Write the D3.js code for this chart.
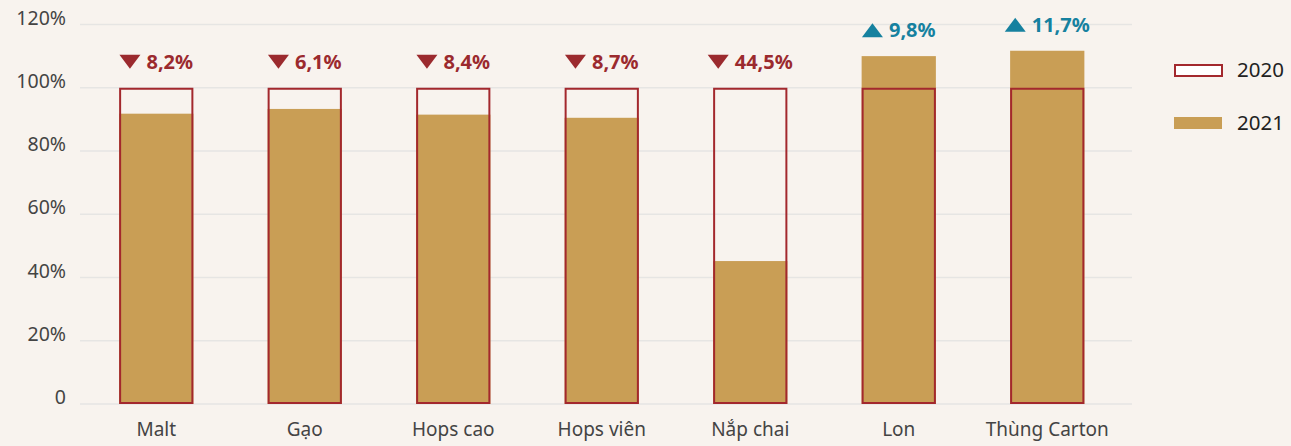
<!DOCTYPE html>
<html>
<head>
<meta charset="utf-8">
<script src="https://cdn.jsdelivr.net/npm/d3@7"></script>
<style>
  html, body { margin: 0; padding: 0; background: #f8f3ee; }
  svg { display: block; font-family: "Noto Sans", "Open Sans", sans-serif; }
</style>
</head>
<body>
<svg id="chart" width="1291" height="446"></svg>
<script>
// Material cost index: 2020 = 100%, 2021 relative to 2020
const categories = ["Malt", "Gạo", "Hops cao", "Hops viên", "Nắp chai", "Lon", "Thùng Carton"];
const values2020 = [100, 100, 100, 100, 100, 100, 100];
const values2021 = [91.8, 93.3, 91.5, 90.5, 45.2, 110, 111.7];
const changeLabels = ["8,2%", "6,1%", "8,4%", "8,7%", "44,5%", "9,8%", "11,7%"];
const changeDirection = ["down", "down", "down", "down", "down", "up", "up"];
const yTicks = [0, 20, 40, 60, 80, 100, 120];
const seriesNames = ["2020", "2021"];

const colors = {
  fill2021: "#c99e55",
  stroke2020: "#a3282d",
  down: "#9b2a2e",
  up: "#16819f",
  grid: "#e6e5e3",
  axisText: "#444",
  legendText: "#222"
};

const svg = d3.select("#chart");

const x = d3.scaleBand()
  .domain(categories)
  .range([82, 1121.5])
  .paddingInner(0.5)
  .paddingOuter(0.25);

const y = d3.scaleLinear()
  .domain([0, 120])
  .range([404, 24.5]);

// Horizontal grid lines
svg.append("g")
  .selectAll("line")
  .data(yTicks)
  .join("line")
  .attr("x1", 80)
  .attr("x2", 1132)
  .attr("y1", d => y(d))
  .attr("y2", d => y(d))
  .attr("stroke", colors.grid)
  .attr("stroke-width", 1.5);

// Y axis labels
const yAxis = d3.axisLeft(y)
  .tickValues(yTicks)
  .tickSize(0)
  .tickPadding(0)
  .tickFormat(d => d === 0 ? "0" : d + "%");

svg.append("g")
  .attr("transform", "translate(66,0)")
  .call(yAxis)
  .call(g => g.select(".domain").remove())
  .call(g => g.selectAll("text")
    .attr("dy", "-0.02em")
    .attr("font-size", 19.5)
    .attr("fill", colors.axisText)
    .attr("font-family", "Noto Sans, sans-serif"));

// X axis labels
const xAxis = d3.axisBottom(x).tickSize(0).tickPadding(0);
svg.append("g")
  .attr("transform", "translate(0,422)")
  .call(xAxis)
  .call(g => g.select(".domain").remove())
  .call(g => g.selectAll("text")
    .attr("font-size", 19)
    .attr("fill", colors.axisText)
    .attr("font-family", "Noto Sans, sans-serif"));

const rows = categories.map((c, i) => ({
  cat: c,
  v2020: values2020[i],
  v2021: values2021[i],
  label: changeLabels[i],
  dir: changeDirection[i]
}));

// 2021 filled bars
svg.append("g")
  .selectAll("rect")
  .data(rows)
  .join("rect")
  .attr("x", d => x(d.cat))
  .attr("width", x.bandwidth())
  .attr("y", d => y(d.v2021))
  .attr("height", d => y(0) - y(d.v2021))
  .attr("fill", colors.fill2021);

// 2020 outlined bars
svg.append("g")
  .selectAll("rect")
  .data(rows)
  .join("rect")
  .attr("x", d => x(d.cat) + 1)
  .attr("width", x.bandwidth() - 2)
  .attr("y", d => y(d.v2020) + 1)
  .attr("height", d => y(0) - y(d.v2020) - 2)
  .attr("fill", "none")
  .attr("stroke", colors.stroke2020)
  .attr("stroke-width", 2);

// Change annotations: triangle + percentage, centred above each bar
const ann = svg.append("g")
  .selectAll("g")
  .data(rows)
  .join("g")
  .attr("transform", d => {
    const top = y(Math.max(d.v2020, d.v2021));
    return `translate(${x(d.cat) + x.bandwidth() / 2},${top - 26})`;
  });

ann.each(function(d) {
  const g = d3.select(this);
  const col = d.dir === "down" ? colors.down : colors.up;
  const txt = g.append("text")
    .text(d.label)
    .attr("font-size", 20)
    .attr("font-weight", 700)
    .attr("fill", col)
    .attr("dy", "0.35em");
  const tw = txt.node().getComputedTextLength();
  const triW = 21, gap = 6;
  const total = triW + gap + tw;
  const x0 = -total / 2;
  txt.attr("x", x0 + triW + gap);
  const path = d.dir === "down"
    ? `M${x0},-7 L${x0 + triW},-7 L${x0 + triW / 2},7 Z`
    : `M${x0},7 L${x0 + triW},7 L${x0 + triW / 2},-7 Z`;
  g.append("path").attr("d", path).attr("fill", col);
});

// Legend
const legend = svg.append("g").attr("transform", "translate(1174,0)");
legend.append("rect")
  .attr("x", 1).attr("y", 65)
  .attr("width", 47).attr("height", 11)
  .attr("fill", "#fff")
  .attr("stroke", colors.stroke2020)
  .attr("stroke-width", 2);
legend.append("rect")
  .attr("x", 0).attr("y", 117)
  .attr("width", 48).attr("height", 12)
  .attr("fill", colors.fill2021);
legend.selectAll("text")
  .data(seriesNames)
  .join("text")
  .attr("x", 63)
  .attr("y", (d, i) => i === 0 ? 70 : 123)
  .attr("dy", "0.35em")
  .attr("font-size", 20.5)
  .attr("fill", colors.legendText)
  .text(d => d);
</script>
</body>
</html>
